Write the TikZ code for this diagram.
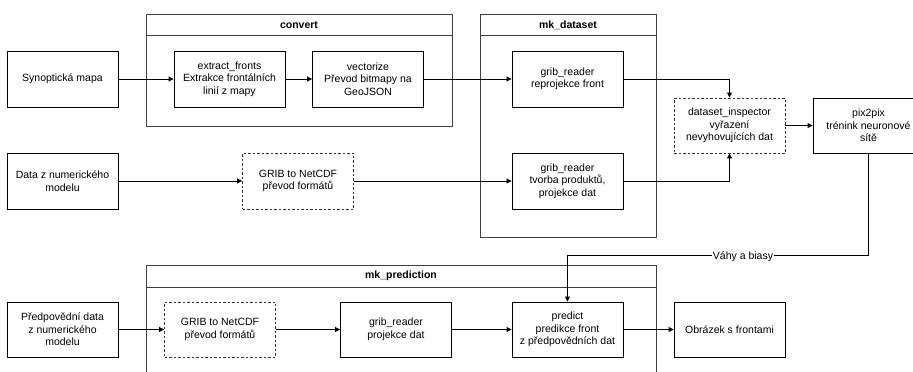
\documentclass[tikz,border=0pt]{standalone}
\usepackage{fontspec}
\setmainfont{Liberation Sans}
\usetikzlibrary{arrows.meta,calc}
\begin{document}
\begin{tikzpicture}[x=1pt,y=-1pt,
  every node/.style={font=\fontsize{10.5}{12.5}\selectfont, align=center, inner sep=0pt},
  proc/.style={draw=black, line width=0.9pt, minimum width=111pt, minimum height=56pt},
  dproc/.style={proc, draw=black!80, dash pattern=on 2.5pt off 2pt},
  group/.style={draw=black!75, line width=0.9pt},
  flow/.style={draw=black, line width=0.9pt, -{Triangle[length=5pt,width=5pt]}},
  ttl/.style={font=\fontsize{10.5}{12.5}\selectfont\bfseries}]
\useasboundingbox (0,0) rectangle (913,372);
\clip (0,0) rectangle (913,372);

% containers
\draw[group] (146,14) rectangle (452,126);
\draw[group] (146,35) -- (452,35);
\node[ttl] (tconv) at (299,25) {convert};

\draw[group] (480,14) rectangle (656,237);
\draw[group] (480,35) -- (656,35);
\node[ttl] (tds) at (568,25) {mk\_dataset};

\draw[group] (146,265) rectangle (656,400);
\draw[group] (146,287) -- (656,287);
\node[ttl] (tpred) at (401,276) {mk\_prediction};

% process boxes
\node[proc] (syn) at (62.5,79) {Synoptická mapa};
\node[proc] (ext) at (229.5,79) {extract\_fronts\\Extrakce frontálních\\linií z mapy};
\node[proc] (vec) at (368,79) {vectorize\\Převod bitmapy na\\GeoJSON};
\node[proc] (grr) at (567.5,79) {grib\_reader\\reprojekce front};

\node[proc] (num) at (62.5,181) {Data z numerického\\modelu};
\node[dproc] (g2n) at (298,181) {GRIB to NetCDF\\převod formátů};
\node[proc] (grt) at (567.5,181) {grib\_reader\\tvorba produktů,\\projekce dat};

\node[dproc, minimum height=55pt] (ins) at (729.5,125.5) {dataset\_inspector\\vyřazení\\nevyhovujících dat};
\node[proc, minimum height=55pt] (pix) at (868.5,125.5) {pix2pix\\trénink neuronové\\sítě};

\node[proc, minimum height=55pt] (fc) at (62.5,329.5) {Předpovědní data\\z numerického\\modelu};
\node[dproc, minimum height=55pt] (g2p) at (220,329.5) {GRIB to NetCDF\\převod formátů};
\node[proc, minimum height=55pt] (grp) at (396,329.5) {grib\_reader\\projekce dat};
\node[proc, minimum height=55pt] (prd) at (567.5,329.5) {predict\\predikce front\\z předpovědních dat};
\node[proc, minimum height=55pt] (img) at (729.5,329.5) {Obrázek s frontami};

% connectors
\draw[flow] (syn) -- (ext);
\draw[flow] (ext) -- (vec);
\draw[flow] (vec) -- (grr);
\draw[flow] (num) -- (g2n);
\draw[flow] (g2n) -- (grt);
\draw[flow] (grr.east) -| (ins.north);
\draw[flow] (grt.east) -| (ins.south);
\draw[flow] (ins) -- (pix);
\coordinate (wr) at (868.5,255);
\coordinate (wl) at (567.5,255);
\draw[flow] (pix.south) -- (wr) -- (wl) -- (prd.north);
\node[fill=white, inner sep=1pt] (lbl) at (743,257) {Váhy a biasy};
\draw[flow] (fc) -- (g2p);
\draw[flow] (g2p) -- (grp);
\draw[flow] (grp) -- (prd);
\draw[flow] (prd) -- (img);
\end{tikzpicture}
\end{document}
